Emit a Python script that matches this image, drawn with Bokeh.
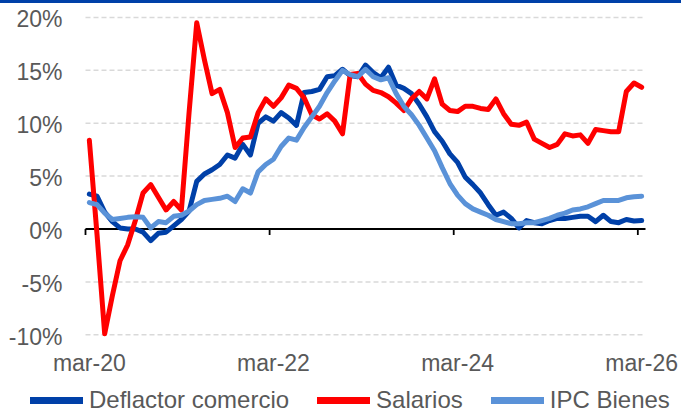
from bokeh.plotting import figure
from bokeh.models import Range1d, Legend, LegendItem
from bokeh.core.properties import value
from bokeh.embed import file_html
from bokeh.resources import INLINE

# ---- data (monthly, mar-20 .. mar-26) ----
deflactor = [3.3, 3.1, 1.6, 0.7, 0.1, 0.0, 0.0, -0.3, -1.1, -0.4, -0.3, 0.3, 0.9, 1.7,
             4.5, 5.2, 5.6, 6.1, 7.0, 6.7, 8.0, 7.0, 10.0, 10.6, 10.2, 11.0, 10.5, 9.8,
             12.9, 13.0, 13.2, 14.4, 14.5, 15.1, 14.5, 14.4, 15.5, 14.8, 14.3, 15.3,
             13.6, 13.3, 12.8, 11.8, 10.6, 9.2, 8.3, 7.1, 6.3, 4.9, 4.2, 3.4, 2.3, 1.3,
             1.6, 1.0, 0.1, 0.8, 0.6, 0.5, 0.8, 1.0, 1.0, 1.1, 1.2, 1.2, 0.7, 1.3, 0.7,
             0.6, 0.9, 0.75, 0.8]
salarios = [8.4, -0.5, -9.9, -6.3, -3.0, -1.5, 0.8, 3.4, 4.2, 3.0, 1.8, 2.6, 1.8, 11.0,
            19.5, 16.0, 12.8, 13.2, 11.0, 7.7, 8.6, 8.7, 11.0, 12.3, 11.6, 12.4, 13.6,
            13.3, 12.4, 10.8, 10.4, 10.9, 10.2, 9.0, 14.6, 14.7, 13.7, 13.1, 12.9, 12.5,
            11.9, 11.2, 12.3, 13.0, 12.3, 14.2, 11.8, 11.2, 11.1, 11.6, 11.6, 11.4, 11.3,
            12.3, 10.9, 9.9, 9.8, 10.1, 8.5, 8.1, 7.7, 8.0, 9.0, 8.8, 8.9, 8.1, 9.4, 9.3,
            9.2, 9.2, 13.0, 13.8, 13.4]
ipc_bienes = [2.5, 2.3, 1.5, 0.9, 1.0, 1.1, 1.15, 1.1, 0.1, 0.7, 0.6, 1.2, 1.3, 1.7, 2.3,
              2.7, 2.8, 2.9, 3.1, 2.6, 3.8, 3.4, 5.4, 6.1, 6.6, 7.8, 8.6, 8.4, 9.6, 10.6,
              11.6, 12.9, 14.0, 15.0, 14.6, 14.4, 15.1, 14.4, 14.1, 14.3, 12.8, 11.6, 10.8,
              9.8, 8.6, 7.4, 5.8, 4.3, 3.2, 2.4, 1.9, 1.6, 1.3, 0.9, 0.7, 0.5, 0.5, 0.6,
              0.6, 0.8, 1.0, 1.3, 1.5, 1.8, 1.9, 2.1, 2.4, 2.7, 2.7, 2.7, 2.95, 3.05, 3.1]
x = list(range(len(salarios)))

tick_labels = ["mar-20", "mar-22", "mar-24", "mar-26"]
tick_idx = [0, 24, 48, 72]
y_ticks = [-10, -5, 0, 5, 10, 15, 20]
y_labels = ["-10%", "-5%", "0%", "5%", "10%", "15%", "20%"]
series_names = ["Deflactor comercio", "Salarios", "IPC Bienes"]

C_DARK = "#0040A8"
C_RED = "#FF0000"
C_LIGHT = "#5A92D8"
TXT = "#595959"
GRID = "#D9D9D9"
FONT = "Liberation Sans"

W = 681
BAR_H = 3
H = 412 - BAR_H

x_first, x_last = x[0] - 0.5, x[-1] + 0.5      # category-axis extent
PX_X = 560 / (x_last - x_first)                 # px per month
PX_Y = 10.577                                   # px per percentage point
# ranges: frame covers the whole canvas; axis area maps to page x 85..645
x_range = Range1d(x_first - 85 / PX_X, x_last + 36 / PX_X)
y_range = Range1d((228.5 - 412) / PX_Y, (228.5 - BAR_H) / PX_Y)

p = figure(width=W, height=H, output_backend="svg", toolbar_location=None,
           x_range=x_range, y_range=y_range,
           x_axis_location=None, y_axis_location=None,
           min_border_left=0, min_border_right=0, min_border_top=0, min_border_bottom=0,
           styles={"border-top": f"{BAR_H}px solid {C_DARK}"})
p.outline_line_color = None
p.grid.visible = False
p.background_fill_color = "white"
p.border_fill_color = "white"

n = len(y_ticks)
# horizontal dashed gridlines over the axis extent
p.segment(x0=[x_first] * n, x1=[x_last] * n, y0=y_ticks, y1=y_ticks,
          line_color=GRID, line_width=1.5, line_dash="5 3")
# y tick labels
p.text(x=[x_first] * n, y=y_ticks, text=y_labels, x_offset=-23, y_offset=2,
       text_align="right", text_baseline="middle",
       text_font=value(FONT), text_font_size="23px", text_color=TXT)

# zero axis line with ticks at category boundaries
p.segment(x0=[x_first], x1=[x_last], y0=[0], y1=[0], line_color="black", line_width=2)
bounds = [t - 0.5 for t in tick_idx]
p.segment(x0=bounds, y0=[0] * len(bounds), x1=bounds, y1=[-6 / PX_Y] * len(bounds),
          line_color="black", line_width=1.8)
# x tick labels (category centres)
p.text(x=tick_idx, y=[min(y_ticks)] * len(tick_idx), text=tick_labels, y_offset=28,
       text_align="center", text_baseline="middle",
       text_font=value(FONT), text_font_size="23px", text_color=TXT)

# series
r1 = p.line(x, deflactor, line_color=C_DARK, line_width=5, line_join="round", line_cap="round")
r2 = p.line(x, salarios, line_color=C_RED, line_width=5, line_join="round", line_cap="round")
r3 = p.line(x, ipc_bienes, line_color=C_LIGHT, line_width=5, line_join="round", line_cap="round")

# legend proxies (thicker strokes as in the reference; a single NaN point draws nothing)
nan = float("nan")
l1 = p.line(x=[0], y=[nan], line_color=C_DARK, line_width=7, line_cap="round")
l2 = p.line(x=[0], y=[nan], line_color=C_RED, line_width=7, line_cap="round")
l3 = p.line(x=[0], y=[nan], line_color=C_LIGHT, line_width=7, line_cap="round")
legend = Legend(items=[LegendItem(label=series_names[0], renderers=[l1]),
                       LegendItem(label=series_names[1], renderers=[l2]),
                       LegendItem(label=series_names[2], renderers=[l3])],
                orientation="horizontal", location=(30, -2),
                glyph_width=53, glyph_height=20, label_standoff=6, spacing=28,
                padding=0, margin=0, border_line_color=None, background_fill_alpha=0,
                label_text_font=FONT, label_text_font_size="24px", label_text_color=TXT)
p.add_layout(legend, "center")

open("out.html", "w").write(file_html(p, INLINE))
